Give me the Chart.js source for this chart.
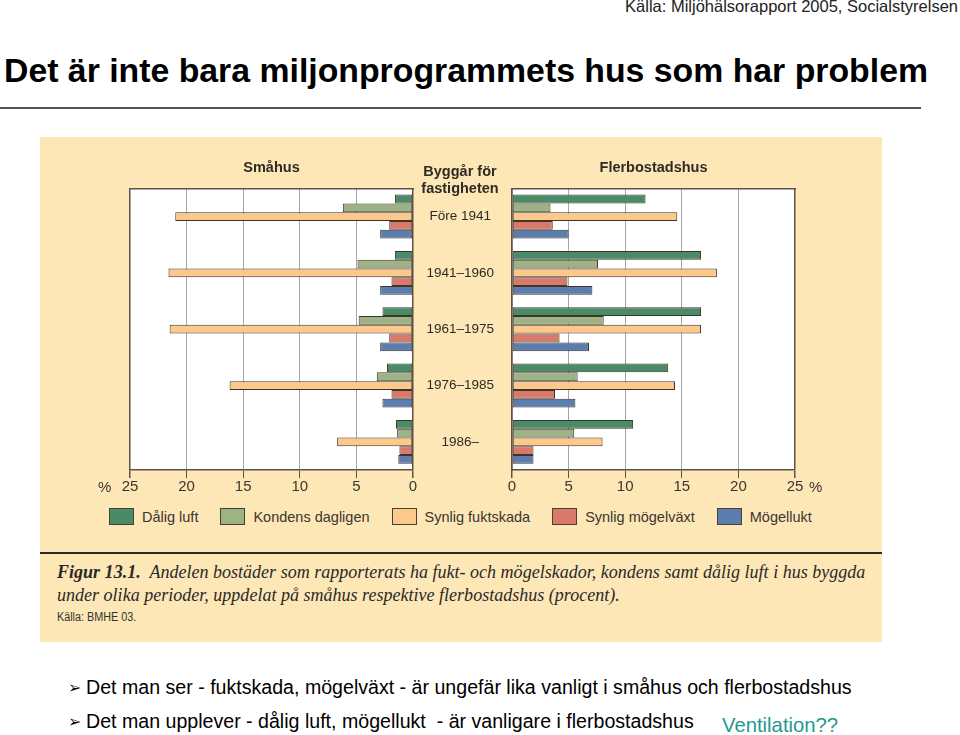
<!DOCTYPE html>
<html lang="sv">
<head>
<meta charset="utf-8">
<script src="https://cdn.jsdelivr.net/npm/chart.js@4"></script>
<style>
  html, body { margin: 0; padding: 0; background: #fff; }
  body { width: 960px; height: 735px; position: relative; overflow: hidden;
         font-family: Arial, "Liberation Sans", Helvetica, sans-serif; color: #000; }
  .abs { position: absolute; white-space: nowrap; }
  #source { right: 2px; top: -3px; font-size: 16.5px; color: #222; }
  #title { left: 4px; top: 51px; font-size: 33.8px; font-weight: bold; }
  #rule { left: 0; top: 107px; width: 921px; height: 2px; background: #555; }
  #panel { left: 40px; top: 137px; width: 842px; height: 505px; background: #fde7b7; }
  #sep { left: 40px; top: 552px; width: 842px; height: 2px; background: #2a2a2a; }
  .head { font-size: 14.5px; font-weight: bold; color: #2e2a24; text-align: center; }
  .pct { font-size: 15px; color: #3a3530; }
  #legend { left: 109px; top: 508px; display: flex; gap: 22px; font-size: 14.5px; color: #3a3530; }
  #legend .item { display: flex; align-items: center; }
  #legend .sw { width: 23px; height: 15px; border: 1px solid #4a3f35; margin-right: 8px; }
  #caption { left: 57px; top: 560px; font-family: "Liberation Serif", "Times New Roman", serif;
             font-style: italic; font-size: 19.5px; line-height: 23px; color: #2a2a2a;
             transform: scaleX(0.925); transform-origin: left top; }
  #caption b { font-weight: bold; }
  #capsrc { left: 57px; top: 610px; font-size: 12px; color: #333; transform: scaleX(0.9); transform-origin: left top; }
  .bullet { left: 68px; font-size: 19.6px; color: #000; }
  .bullet span { font-size: 16px; margin-right: 5px; position: relative; top: -1px; }
  #vent { left: 722px; top: 714px; font-size: 20.3px; color: #1f9a8e; }
  canvas { position: absolute; }
</style>
</head>
<body>
<div class="abs" id="source">Källa: Miljöhälsorapport 2005, Socialstyrelsen</div>
<div class="abs" id="title">Det är inte bara miljonprogrammets hus som har problem</div>
<div class="abs" id="rule"></div>

<div class="abs" id="panel"></div>
<canvas id="chartSmahus" width="311" height="355" style="left:110px; top:150px; width:311px; height:355px;"></canvas>
<canvas id="chartFler" width="398" height="355" style="left:412px; top:150px; width:398px; height:355px;"></canvas>
<div class="abs head" style="left:410px; top:163px; width:100px; line-height:17px;">Byggår för<br>fastigheten</div>
<div class="abs pct" style="left:98px; top:478px;">%</div>
<div class="abs pct" style="left:809px; top:478px;">%</div>
<div class="abs" id="legend"></div>
<div class="abs" id="sep"></div>
<div class="abs" id="caption"><b>Figur 13.1.</b>&nbsp; Andelen bostäder som rapporterats ha fukt- och mögelskador, kondens samt dålig luft i hus byggda<br>under olika perioder, uppdelat på småhus respektive flerbostadshus (procent).</div>
<div class="abs" id="capsrc">Källa: BMHE 03.</div>

<div class="abs bullet" style="top:676px;"><span>&#10146;</span>Det man ser - fuktskada, mögelväxt - är ungefär lika vanligt i småhus och flerbostadshus</div>
<div class="abs bullet" style="top:710px;"><span>&#10146;</span>Det man upplever - dålig luft, mögellukt&nbsp; - är vanligare i flerbostadshus</div>
<div class="abs" id="vent">Ventilation??</div>

<script>
// ---- data (percent) -------------------------------------------------------
const periods = ['Före 1941', '1941–1960', '1961–1975', '1976–1985', '1986–'];
const seriesNames = ['Dålig luft', 'Kondens dagligen', 'Synlig fuktskada', 'Synlig mögelväxt', 'Mögellukt'];
const seriesColors = ['#4a8a66', '#9db383', '#fdc98a', '#d8796a', '#5b7eae'];

// Småhus
const smaDaligLuft = [1.6, 1.6, 2.7, 2.3, 1.5];
const smaKondens = [6.2, 4.9, 4.8, 3.2, 1.4];
const smaFuktskada = [21.0, 21.6, 21.5, 16.2, 6.7];
const smaMogelvaxt = [2.1, 1.9, 2.1, 1.9, 1.2];
const smaMogellukt = [2.9, 2.9, 2.9, 2.7, 1.3];

// Flerbostadshus
const flerDaligLuft = [11.8, 16.7, 16.7, 13.8, 10.7];
const flerKondens = [3.4, 7.6, 8.1, 5.8, 5.5];
const flerFuktskada = [14.6, 18.1, 16.7, 14.4, 8.0];
const flerMogelvaxt = [3.6, 4.9, 4.2, 3.8, 1.9];
const flerMogellukt = [5.0, 7.1, 6.8, 5.6, 1.9];

const xTicks = [0, 5, 10, 15, 20, 25];

// ---- shared styling -------------------------------------------------------
const FONT = "Arial, 'Liberation Sans', Helvetica, sans-serif";
const TEXT = '#3a3530';
const EDGE = '#5e5246';
const GRID = '#a8a6a2';

// white plot background
const plotBg = {
  id: 'plotBg',
  beforeDraw(chart) {
    const { ctx, chartArea: a } = chart;
    ctx.save();
    ctx.fillStyle = '#ffffff';
    ctx.fillRect(a.left, a.top, a.right - a.left, a.bottom - a.top);
    ctx.restore();
  }
};

function datasets(rows) {
  return rows.map((data, i) => ({
    label: seriesNames[i],
    data,
    backgroundColor: seriesColors[i],
    borderColor: '#3d342c',
    borderWidth: 1,
    borderSkipped: false,
    categoryPercentage: 0.78,
    barPercentage: 1.0
  }));
}

function xScale(reverse) {
  return {
    type: 'linear',
    min: 0,
    max: 25,
    reverse,
    afterBuildTicks: (axis) => { axis.ticks = xTicks.map((v) => ({ value: v })); },
    afterFit: (axis) => { axis.height = 30; },
    border: { display: true, color: EDGE, width: 1.5 },
    grid: {
      drawTicks: true,
      tickLength: 8,
      color: (c) => (c.tick && (c.tick.value === 0 || c.tick.value === 25)) ? EDGE : GRID,
      lineWidth: (c) => (c.tick && (c.tick.value === 0 || c.tick.value === 25)) ? 1.5 : 1,
      tickColor: EDGE
    },
    ticks: { color: TEXT, font: { family: FONT, size: 15 }, padding: 0, maxRotation: 0 }
  };
}

const topBorder = {
  type: 'linear',
  position: 'top',
  min: 0,
  max: 25,
  afterFit: (axis) => { axis.height = 0; },
  border: { display: true, color: EDGE, width: 1.5 },
  grid: { display: false, drawTicks: false },
  ticks: { display: false }
};

function baseOptions(title, scales) {
  return {
    indexAxis: 'y',
    responsive: false,
    animation: false,
    layout: { padding: { left: 0, right: 0, top: 0, bottom: 5 } },
    plugins: {
      legend: { display: false },
      tooltip: { enabled: false },
      title: {
        display: true,
        text: title,
        fullSize: false,
        color: '#2e2a24',
        font: { family: FONT, size: 14.5, weight: 'bold' },
        padding: { top: 9, bottom: 12 }
      }
    },
    scales
  };
}

// ---- Småhus (mirrored) ------------------------------------------------------
const optSma = baseOptions('Småhus', {
  x: xScale(true),
  xTop: topBorder,
  y: { display: false, grid: { display: false } }
});
optSma.layout.padding.left = 20;
optSma.layout.padding.right = 8;

new Chart(document.getElementById('chartSmahus'), {
  type: 'bar',
  data: {
    labels: periods,
    datasets: datasets([smaDaligLuft, smaKondens, smaFuktskada, smaMogelvaxt, smaMogellukt])
  },
  options: optSma,
  plugins: [plotBg]
});

// ---- Flerbostadshus -------------------------------------------------------
const optFler = baseOptions('Flerbostadshus', {
  x: xScale(false),
  xTop: topBorder,
  y: {
    position: 'left',
    afterFit: (axis) => { axis.width = 100; },
    border: { display: true, color: EDGE, width: 1.5 },
    grid: { display: false, drawTicks: false },
    ticks: { color: '#2e2a24', font: { family: FONT, size: 13.5 }, crossAlign: 'center', padding: 18 }
  }
});
optFler.layout.padding.right = 15;

new Chart(document.getElementById('chartFler'), {
  type: 'bar',
  data: {
    labels: periods,
    datasets: datasets([flerDaligLuft, flerKondens, flerFuktskada, flerMogelvaxt, flerMogellukt])
  },
  options: optFler,
  plugins: [plotBg]
});

// ---- legend (built from the series arrays) --------------------------------
const legendEl = document.getElementById('legend');
seriesNames.forEach((name, i) => {
  const item = document.createElement('div');
  item.className = 'item';
  item.innerHTML = `<div class="sw" style="background:${seriesColors[i]}"></div>${name}`;
  legendEl.appendChild(item);
});
</script>
</body>
</html>
